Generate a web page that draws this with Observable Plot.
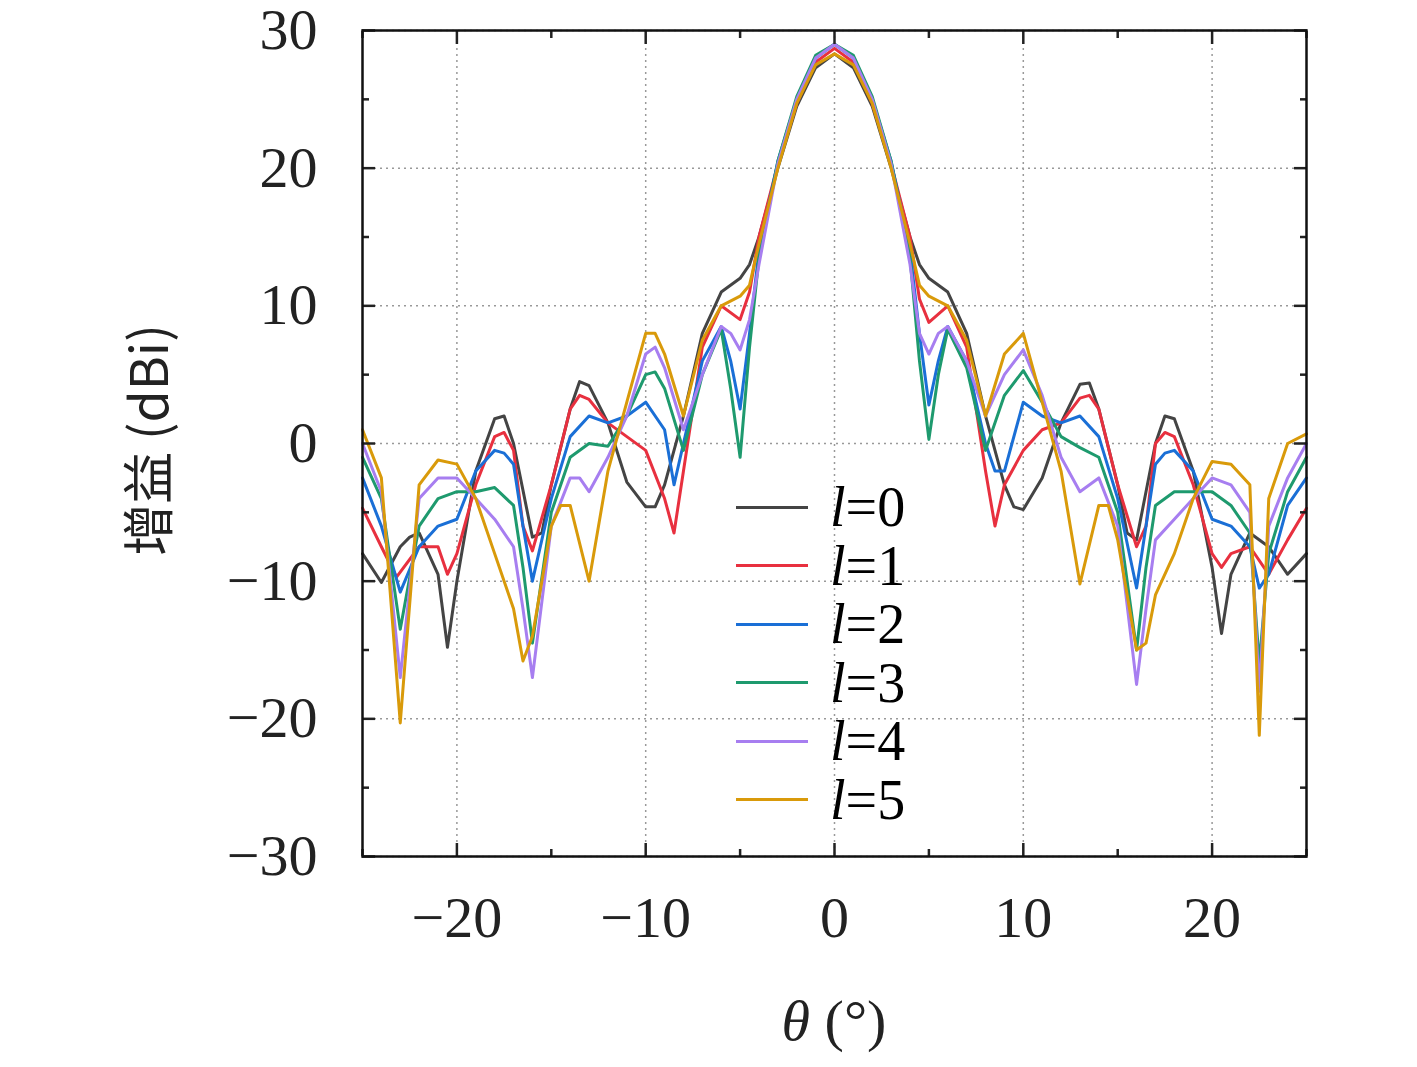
<!DOCTYPE html>
<html><head><meta charset="utf-8">
<script src="https://cdn.jsdelivr.net/npm/d3@7"></script>
<script src="https://cdn.jsdelivr.net/npm/@observablehq/plot@0.6"></script>
<style>
body{margin:0;background:#fff;}
#wrap{position:relative;width:1417px;height:1067px;}
#legend{position:absolute;left:736px;top:478px;font-family:"Liberation Serif","DejaVu Serif",serif;font-size:56px;}
#legend div{display:flex;align-items:center;height:58.5px;}
#legend span.sw{display:inline-block;width:72px;height:3px;margin-right:22px;}
#ylab{position:absolute;left:145px;top:440px;transform:translate(-50%,-50%) rotate(-90deg);font-family:"Noto Sans CJK SC","Liberation Serif",serif;font-size:52px;white-space:nowrap;color:#222;}
#xlab{position:absolute;left:834px;top:1020px;transform:translate(-50%,-50%);font-family:"Liberation Serif",serif;font-size:58px;white-space:nowrap;color:#222;}
</style></head><body>
<div id="wrap"><div id="chart"></div><div id="ylab">增益 (dBi)</div><div id="xlab"><i>θ</i> (°)</div><div id="legend"></div></div>
<script>
const seriesNames = ["l=0","l=1","l=2","l=3","l=4","l=5"];
const colors = ["#444444","#e8303f","#1a6fd6","#1e9a6e","#a77ef0","#d99a0a"];
const xTicks = [-20,-10,0,10,20];
const yTicks = [-30,-20,-10,0,10,20,30];
const l0 = [[-25,-8],[-24,-10.1],[-23,-7.5],[-22.5,-6.8],[-22,-6.5],[-21,-9.5],[-20.5,-14.8],[-20,-10],[-19,-2],[-18,1.8],[-17.5,2],[-17,0],[-16,-6.8],[-15.5,-6.5],[-15,-3],[-14,2.5],[-13.5,4.5],[-13,4.2],[-12,1.5],[-11,-2.8],[-10,-4.6],[-9.5,-4.6],[-9,-3],[-8,2],[-7,8],[-6,11],[-5,12],[-4.5,13],[-4,15],[-3,20],[-2,24.5],[-1,27.3],[0,28.3],[1,27.3],[2,24.5],[3,20],[4,15],[4.5,13],[5,12],[6,11],[7,8],[8,2],[9,-3],[9.5,-4.6],[10,-4.8],[11,-2.5],[12,1.5],[13,4.3],[13.5,4.4],[14,2.5],[15,-3],[15.5,-6.5],[16,-7],[17,0],[17.5,2],[18,1.8],[19,-2],[20,-9],[20.5,-13.8],[21,-9.5],[22,-6.5],[23,-7.5],[24,-9.5],[25,-8]];
const l1 = [[-25,-4.7],[-24,-7.5],[-23.2,-9.7],[-22,-7.5],[-21,-7.5],[-20.5,-9.5],[-20,-8],[-19,-3],[-18,0.5],[-17.5,0.8],[-17,-0.5],[-16.5,-6],[-16,-7.8],[-15,-3],[-14,2.5],[-13.5,3.5],[-13,3.2],[-12,1.5],[-11,0.5],[-10,-0.5],[-9,-4],[-8.5,-6.5],[-8,-2],[-7,7],[-6,10],[-5,9],[-4.5,11],[-4,15],[-3,20.3],[-2,24.7],[-1,27.7],[0,28.7],[1,27.7],[2,24.7],[3,20.3],[4,15],[4.5,10.5],[5,8.8],[6,10],[7,7],[8,-2],[8.5,-6],[9,-3],[10,-0.5],[11,1],[12,1.5],[13,3.3],[13.5,3.5],[14,2.5],[15,-3],[16,-7.5],[16.5,-6],[17,0],[17.5,0.8],[18,0.5],[19,-3],[20,-8],[20.5,-9],[21,-8],[22,-7.5],[23,-9.5],[24,-7],[25,-4.7]];
const l2 = [[-25,-2.5],[-24,-6],[-23,-10.8],[-22,-7.5],[-21,-6],[-20,-5.5],[-19,-2],[-18,-0.5],[-17.5,-0.7],[-17,-1.5],[-16.5,-6],[-16,-10],[-15,-4],[-14,0.5],[-13,2],[-12,1.5],[-11,2],[-10,3],[-9,1],[-8.5,-3],[-8,0],[-7,6],[-6,8.5],[-5.5,6],[-5,2.5],[-4.5,8],[-4,14],[-3,20.5],[-2,25],[-1,28],[0,29],[1,28],[2,25],[3,20.5],[4,14],[4.5,8],[5,2.8],[5.5,6],[6,8.5],[7,6],[8,0],[8.5,-2],[9,-2],[10,3],[11,2],[12,1.5],[13,2],[14,0.5],[15,-4],[16,-10.5],[16.5,-6],[17,-1.5],[17.5,-0.7],[18,-0.5],[19,-2],[20,-5.5],[21,-6],[22,-7.5],[22.5,-10.5],[23,-9.5],[24,-4.5],[25,-2.5]];
const l3 = [[-25,-1],[-24,-4],[-23,-13.5],[-22,-6],[-21,-4],[-20,-3.5],[-19,-3.5],[-18,-3.2],[-17,-4.5],[-16.5,-9],[-16,-14.5],[-15,-5],[-14,-1],[-13,0],[-12,-0.2],[-11,2],[-10,5],[-9.5,5.2],[-9,4],[-8,-0.5],[-7,5],[-6,8.3],[-5.5,4],[-5,-1],[-4.5,7],[-4,13.5],[-3,20.5],[-2,25.2],[-1,28.2],[0,29],[1,28.2],[2,25.2],[3,20.5],[4,13.5],[4.5,6],[5,0.3],[5.5,5],[6,8.3],[7,5.5],[8,-0.5],[9,3.5],[10,5.3],[11,3],[12,0.5],[13,-0.3],[14,-1],[15,-5],[16,-15],[16.5,-9],[17,-4.5],[18,-3.5],[19,-3.5],[20,-3.5],[21,-4.5],[22,-6.5],[22.5,-16],[23,-8],[24,-3.5],[25,-1]];
const l4 = [[-25,0],[-24,-3.5],[-23,-17],[-22,-4],[-21,-2.5],[-20,-2.5],[-19,-4],[-18,-5.5],[-17,-7.5],[-16.5,-12],[-16,-17],[-15,-6],[-14,-2.5],[-13.5,-2.5],[-13,-3.5],[-12,-1],[-11,2],[-10,6.5],[-9.5,7],[-9,5.5],[-8,1],[-7,5],[-6,8.5],[-5.5,8],[-5,6.8],[-4.5,9],[-4,13],[-3,20.3],[-2,25],[-1,28],[0,29],[1,28],[2,25],[3,20.3],[4,13],[4.5,8],[5,6.5],[5.5,8],[6,8.5],[7,6],[8,2],[9,5],[10,6.8],[11,3.5],[12,-1],[13,-3.5],[14,-2.5],[15,-6],[16,-17.5],[16.5,-12],[17,-7],[18,-5.5],[19,-4],[20,-2.5],[21,-3],[22,-5],[22.5,-18],[23,-6],[24,-2.5],[25,0]];
const l5 = [[-25,1],[-24,-2.5],[-23,-20.3],[-22,-3],[-21,-1.2],[-20,-1.5],[-19,-4],[-18,-8],[-17,-12],[-16.5,-15.8],[-16,-14],[-15.5,-10],[-15,-6],[-14.5,-4.5],[-14,-4.5],[-13,-10],[-12,-2],[-11,3],[-10,8],[-9.5,8],[-9,6.5],[-8,2],[-7,7.5],[-6,10],[-5,10.7],[-4.5,11.5],[-4,14.5],[-3,20],[-2,24.7],[-1,27.5],[0,28.3],[1,27.5],[2,24.7],[3,20],[4,14.5],[4.5,11.5],[5,10.7],[6,10],[7,7.5],[8,2],[9,6.5],[10,8],[11,3],[12,-2],[13,-10.2],[14,-4.5],[14.5,-4.5],[15,-7],[16,-15],[16.5,-14.5],[17,-11],[18,-8],[19,-4],[20,-1.3],[21,-1.5],[22,-3],[22.5,-21.2],[23,-4],[24,0],[25,0.7]];
const allSeries = [l0,l1,l2,l3,l4,l5];
const data = allSeries.flatMap((s,i)=>s.map(([t,v])=>({t,v,s:seriesNames[i]})));
const minorX = [-25,-15,-5,5,15,25];
const minorY = [-25,-15,-5,5,15,25];
const font = "'Liberation Serif','DejaVu Serif',serif";
const chart = Plot.plot({
  width:1417,height:1067,marginLeft:362,marginRight:111,marginTop:30,marginBottom:211,
  style:{fontFamily:font,fontSize:"58px",background:"transparent",color:"#222"},
  x:{domain:[-25,25]},y:{domain:[-30,30]},
  color:{domain:seriesNames,range:colors},
  marks:[
    Plot.gridX(xTicks,{stroke:"#999",strokeOpacity:1,strokeDasharray:"2,4",strokeWidth:1.5}),
    Plot.gridY(yTicks,{stroke:"#999",strokeOpacity:1,strokeDasharray:"2,4",strokeWidth:1.5}),
    Plot.line(data,{x:"t",y:"v",stroke:"s",z:"s",strokeWidth:3}),
    Plot.axisX(xTicks,{anchor:"bottom",tickSize:-13,tickPadding:52,label:null,strokeWidth:2.5}),
    Plot.axisX(xTicks,{anchor:"top",tickSize:-13,text:null,label:null,strokeWidth:2.5}),
    Plot.axisX(minorX,{anchor:"bottom",tickSize:-7,text:null,label:null,strokeWidth:2.5}),
    Plot.axisX(minorX,{anchor:"top",tickSize:-7,text:null,label:null,strokeWidth:2.5}),
    Plot.axisY(yTicks,{anchor:"left",tickSize:-13,tickPadding:58,label:null,strokeWidth:2.5,tickFormat:d=>d<0?"\u2212"+(-d):""+d}),
    Plot.axisY(yTicks,{anchor:"right",tickSize:-13,text:null,label:null,strokeWidth:2.5}),
    Plot.axisY(minorY,{anchor:"left",tickSize:-7,text:null,label:null,strokeWidth:2.5}),
    Plot.axisY(minorY,{anchor:"right",tickSize:-7,text:null,label:null,strokeWidth:2.5}),
    Plot.frame({stroke:"#111",strokeWidth:2.5})
  ]
});
document.getElementById("chart").appendChild(chart);
const lg = document.getElementById("legend");
seriesNames.forEach((n,i)=>{
  const d=document.createElement("div");
  d.innerHTML=`<span class="sw" style="background:${colors[i]}"></span><span><i>l</i>=${i}</span>`;
  lg.appendChild(d);
});
</script></body></html>
